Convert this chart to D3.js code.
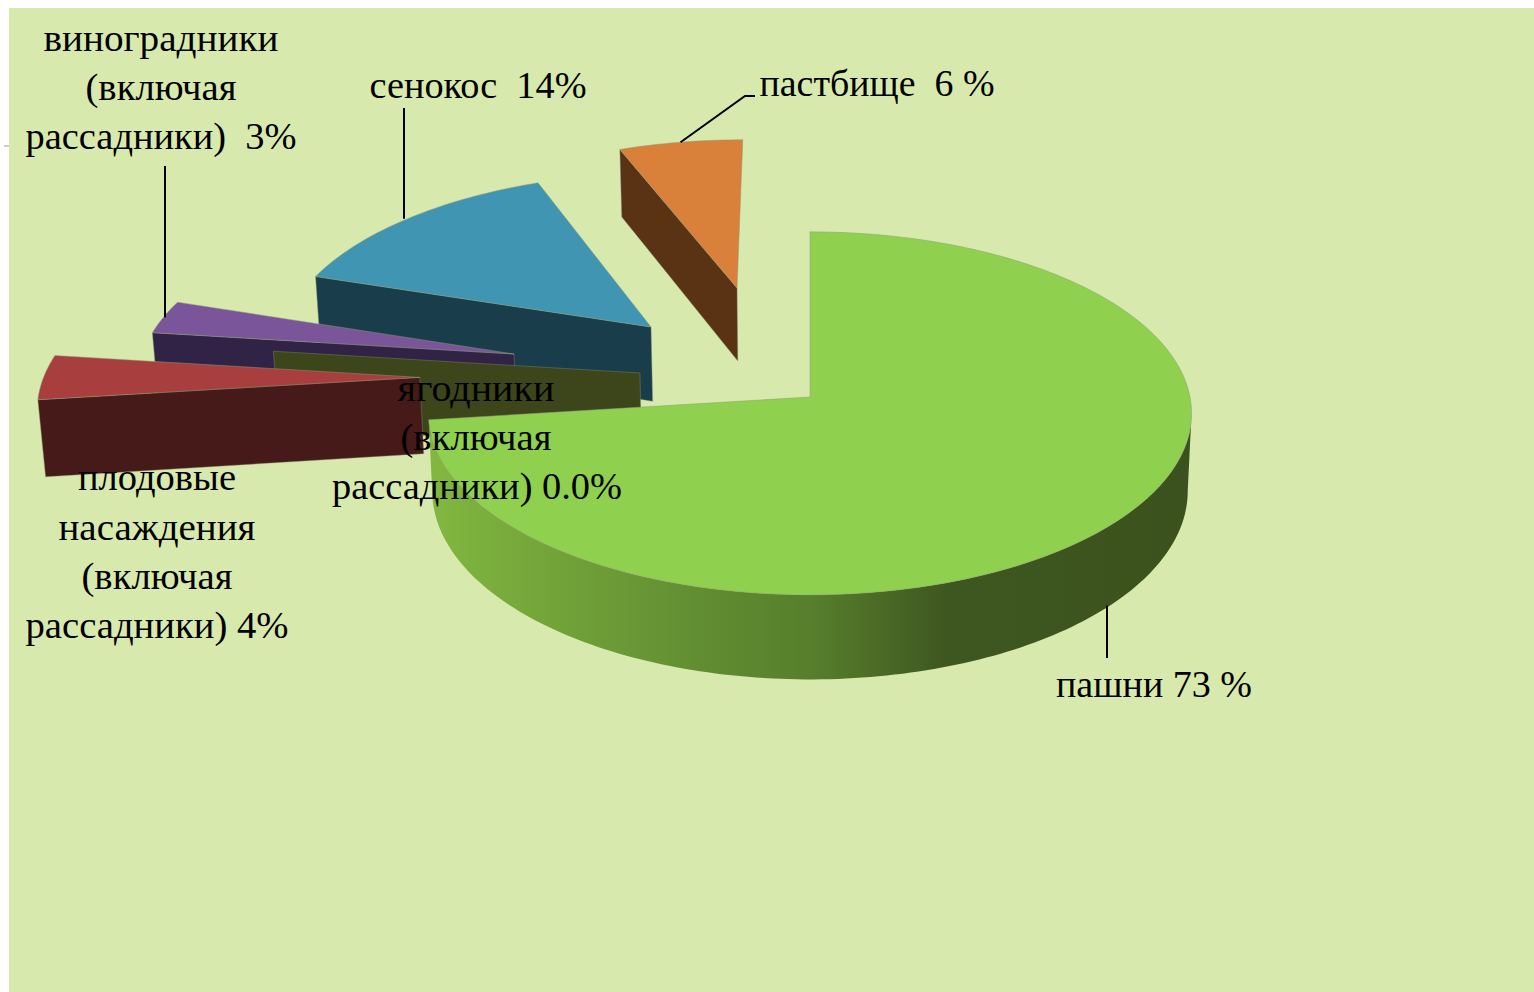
<!DOCTYPE html>
<html>
<head>
<meta charset="utf-8">
<script src="https://cdn.jsdelivr.net/npm/d3@7"></script>
<style>
html, body { margin: 0; padding: 0; background: #fff; }
svg { display: block; }
text { font-family: "Liberation Serif", serif; fill: #000; white-space: pre; }
</style>
</head>
<body>
<div id="chart"></div>
<script>
// Data
var categories = ["пашни", "плодовые насаждения", "ягодники", "виноградники", "сенокос", "пастбище"];
var shares = [73, 4, 0, 3, 14, 6];

// Slice styles
var topColors = ["#8fd14f", "#a83f3e", "#3d451a", "#7a5599", "#4095b3", "#d9803a"];
var wallColors = ["url(#wallGrad)", "#451a18", "#3d451a", "#302345", "#1a3d4c", "#5a3315"];

// How far each slice is pulled out, in units of the pie radius (sideways, backwards)
var explodeU = [0, -1.037, -0.453, -0.796, -0.4335, -0.203];
var explodeV = [0, 0.11, 0.135, 0.244, 0.403, 0.64];

// Order slices are painted, back to front
var paintOrder = [5, 4, 3, 2, 1, 0];

// Label lines: text, centre x, baseline y, width
var labelText = ["виноградники", "(включая", "рассадники)  3%", "сенокос  14%", "пастбище  6 %",
    "ягодники", "(включая", "рассадники) 0.0%", "плодовые", "насаждения", "(включая", "рассадники) 4%", "пашни 73 %"];
var labelX = [161, 161, 161, 478, 877, 476, 476, 477, 157, 157, 157, 157, 1154];
var labelY = [51, 100, 149, 98, 96, 401, 450, 499, 490, 540, 589, 638, 697];
var labelW = [235, 151, 271, 217, 235, 157, 151, 290, 158, 197, 151, 263, 196];

// Leaders: slice index, then the free end(s) of the line
var leaderSlice = [3, 4, 5, 0];
var leaderEnds = [[[165, 166]], [[404, 108]], [[745, 96], [755, 96]], [[1107, 658]]];

var width = 1534, height = 992;

// Pie geometry with a little perspective
var cx = 810, cy = 397, R = 380, Q = 180, depth = 77, persp = 0.09, bottomShrink = 0.01;

var xScale = d3.scaleLinear().domain([-1, 1]).range([cx - R, cx + R]);
var yScale = d3.scaleLinear().domain([-1, 1]).range([cy + Q, cy - Q]);

function project(u, v, z) {
    var w = 1 + persp * v;
    var x = xScale(u / w);
    return [cx + (x - cx) * (1 - bottomShrink * z), yScale(v / w) + depth * z / w];
}

function planePoint(i, angle, r) {
    return [explodeU[i] + r * Math.sin(angle), explodeV[i] + r * Math.cos(angle)];
}

function rimPoint(i, angle, z) {
    var p = planePoint(i, angle, 1);
    return project(p[0], p[1], z);
}

function apexPoint(i, z) {
    return project(explodeU[i], explodeV[i], z);
}

var arcs = d3.pie().sort(null).value(function(d) { return d; })(shares);

var line = d3.line();

function rimSamples(i, a0, a1, z) {
    var n = Math.max(2, Math.ceil(Math.abs(a1 - a0) / 0.02));
    return d3.range(n + 1).map(function(k) {
        return rimPoint(i, a0 + (a1 - a0) * k / n, z);
    });
}

var svg = d3.select("#chart").append("svg")
    .attr("width", width)
    .attr("height", height);

svg.append("rect")
    .attr("x", 9).attr("y", 8)
    .attr("width", width - 9).attr("height", height - 8)
    .attr("fill", "#d8e9ae");

// small stray tick on the left border
svg.append("line")
    .attr("x1", 4).attr("x2", 9).attr("y1", 146).attr("y2", 146)
    .attr("stroke", "#999").attr("stroke-width", 1);

// gradient for the round wall of the big slice
var wallGrad = svg.append("defs").append("linearGradient")
    .attr("id", "wallGrad")
    .attr("gradientUnits", "userSpaceOnUse")
    .attr("x1", xScale(-1)).attr("x2", xScale(1)).attr("y1", 0).attr("y2", 0);
var wallStops = [[0.0, "#82b840"], [0.12, "#76a83b"], [0.35, "#628e32"], [0.5, "#577f2c"], [0.68, "#3e5720"], [1, "#3c521e"]];
wallGrad.selectAll("stop").data(wallStops).enter().append("stop")
    .attr("offset", function(d) { return d[0]; })
    .attr("stop-color", function(d) { return d[1]; });

var slices = svg.selectAll("g.slice")
    .data(paintOrder)
    .enter().append("g")
    .attr("class", "slice");

// walls first
slices.append("path")
    .attr("fill", function(i) { return wallColors[i]; })
    .attr("stroke", function(i) { return i == 0 ? "none" : "#8a9470"; })
    .attr("stroke-width", 0.4)
    .attr("d", function(i) {
        var a = arcs[i];
        if (i == 0) {
            // big slice shows its outer rim, from where it turns away on the right
            var from = Math.acos(-persp);
            var up = rimSamples(i, from, a.endAngle, 0);
            var down = rimSamples(i, a.endAngle, from, 1);
            return line(up.concat(down)) + "Z";
        }
        // the others show the cut face at their start angle
        return line([
            rimPoint(i, a.startAngle, 0),
            apexPoint(i, 0),
            apexPoint(i, 1),
            rimPoint(i, a.startAngle, 1)
        ]) + "Z";
    });

// then top faces
slices.filter(function(i) { return shares[i] > 0; }).append("path")
    .attr("fill", function(i) { return topColors[i]; })
    .attr("stroke", "#8f9c78")
    .attr("stroke-width", 0.5)
    .attr("d", function(i) {
        var a = arcs[i];
        return line([apexPoint(i, 0)].concat(rimSamples(i, a.startAngle, a.endAngle, 0))) + "Z";
    });

// leaders run from the rim at the middle of the slice
svg.selectAll("path.leader")
    .data(leaderSlice)
    .enter().append("path")
    .attr("class", "leader")
    .attr("fill", "none")
    .attr("stroke", "#000")
    .attr("stroke-width", 2)
    .attr("d", function(i, k) {
        var mid = (arcs[i].startAngle + arcs[i].endAngle) / 2;
        // only the big slice is read from the bottom of its wall
        var start = rimPoint(i, mid, i == 0 ? 1 : 0);
        var ends = leaderEnds[k];
        // keep straight leaders straight
        if (ends.length == 1) start = [ends[0][0], start[1]];
        return line([start].concat(ends));
    });

svg.selectAll("text.label")
    .data(labelText)
    .enter().append("text")
    .attr("class", "label")
    .attr("x", function(d, i) { return labelX[i]; })
    .attr("y", function(d, i) { return labelY[i]; })
    .attr("text-anchor", "middle")
    .attr("font-size", 37)
    .attr("textLength", function(d, i) { return labelW[i]; })
    .attr("lengthAdjust", "spacingAndGlyphs")
    .text(function(d) { return d; });
</script>
</body>
</html>
